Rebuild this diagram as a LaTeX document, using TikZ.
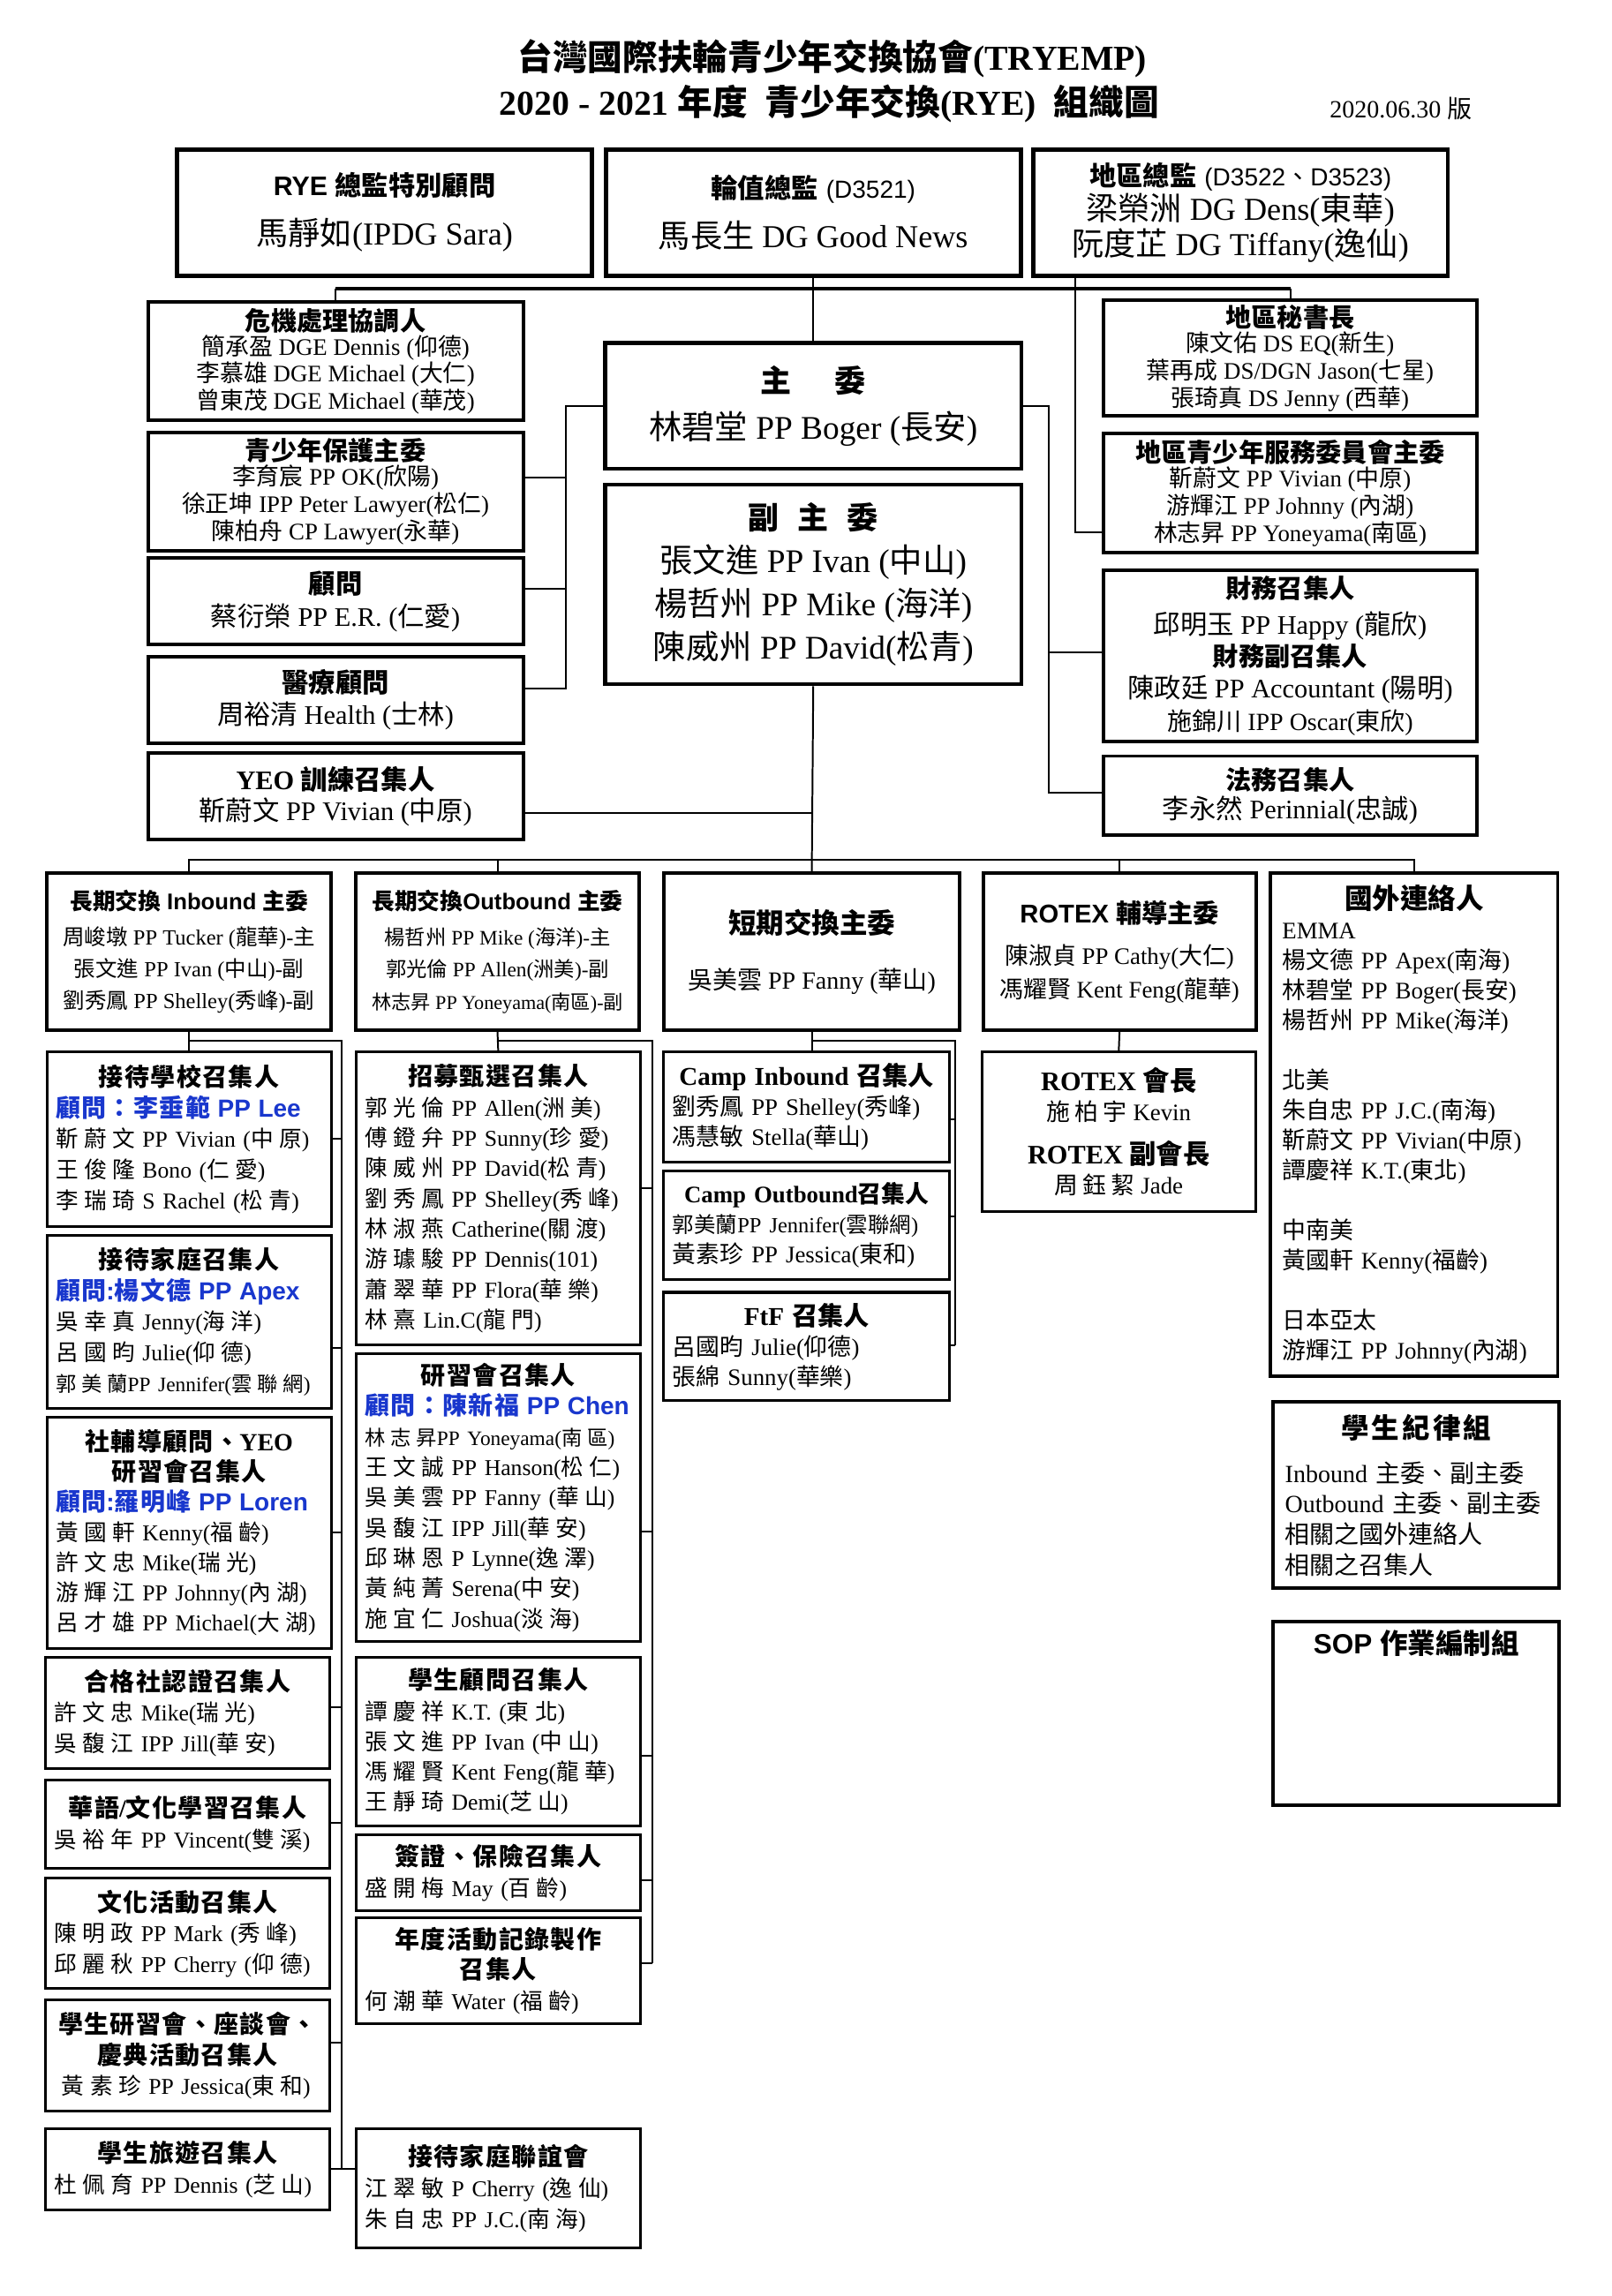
\documentclass[tikz,border=0pt]{standalone}
\usepackage{fontspec}
\setmainfont{Liberation Serif}
\setsansfont{Liberation Sans}
\newfontfamily\cjk{Noto Sans CJK TC}
\newcommand\latinfam{\rmfamily}
\newcommand\cjkgap{}
\chardef\cjkcls=7
\newcount\cjkchar
\cjkchar="2E80
\loop
  \XeTeXcharclass\cjkchar=\cjkcls
  \advance\cjkchar by 1
\ifnum\cjkchar<"A000 \repeat
\cjkchar="FF00
\loop
  \XeTeXcharclass\cjkchar=\cjkcls
  \advance\cjkchar by 1
\ifnum\cjkchar<"FFF0 \repeat
\XeTeXinterchartoks 0 \cjkcls = {\cjk}
\XeTeXinterchartoks 4095 \cjkcls = {\cjk}
\XeTeXinterchartoks \cjkcls 0 = {\latinfam}
\XeTeXinterchartoks \cjkcls 4095 = {\latinfam}
\XeTeXinterchartoks \cjkcls \cjkcls = {\cjkgap}
\XeTeXinterchartokenstate=1
\usepackage{tikz}
\definecolor{advblue}{RGB}{25,55,205}
\newcommand\fsz[2]{\fontsize{#1}{#2}\selectfont}
\newcommand\sfl{\sffamily\def\latinfam{\sffamily}}
\newcommand\gap[1]{\def\cjkgap{\kern#1em}}
\newcommand\hd[1]{\makebox[\hsize]{\bfseries\fsz{12}{14}\gap{.05}#1}}
\newcommand\hdb[1]{\makebox[\hsize]{\bfseries\fsz{12.5}{14}\gap{0}#1}}
\newcommand\adv[1]{{\color{advblue}\sfl\bfseries\fsz{12}{14}\gap{.05}#1}}
\tikzset{
  topbox/.style={draw, line width=2.1pt, minimum width=7.075cm, minimum height=2.15cm, align=center, inner sep=1pt},
  sidebox/.style={draw, line width=1.7pt, minimum width=6.4cm, align=center, inner sep=1pt},
  chairbox/.style={draw, line width=1.8pt, minimum width=7.1cm, align=center, inner sep=1pt},
  rowbox/.style={draw, line width=1.7pt, minimum height=2.675cm, align=center, inner sep=1pt},
  lowbox/.style={draw, line width=1.3pt, text width=4.55cm, inner xsep=0.15cm, inner ysep=0pt, align=left, font=\fsz{11}{14.8}\gap{.25}},
  campbox/.style={lowbox, text width=4.575cm, font=\fsz{11.5}{14.6}},
  link/.style={line width=0.85pt},
  bus/.style={line width=1.9pt}
}
\begin{document}
\begin{tikzpicture}[x=0.025cm, y=-0.025cm]
\useasboundingbox (0,0) rectangle (1100,1567);

\node[font=\bfseries\fsz{17}{20}] (title) at (568,40) {台灣國際扶輪青少年交換協會(TRYEMP)};
\node[font=\bfseries\fsz{17}{20}] (subtitle) at (566,71) {2020 - 2021 年度\enspace 青少年交換(RYE)\enspace 組織圖};
\node[font=\fsz{12}{14}] (version) at (956,74) {2020.06.30 版};

\node[topbox, font=\fsz{15.5}{24}] (rye) at (262.5,145) {{\sfl\bfseries\fsz{13}{15}RYE 總監特別顧問}\\馬靜如(IPDG Sara)};
\node[topbox, font=\fsz{15.5}{24}] (duty) at (555,145) {{\bfseries\fsz{13}{15}輪值總監} {\sfl\fsz{12}{14}(D3521)}\\馬長生 DG Good News};
\node[topbox, font=\fsz{15.5}{17}] (dist) at (846.5,145) {{\bfseries\fsz{13}{15}地區總監} {\sfl\fsz{12}{14}(D3522、D3523)}\\梁榮洲 DG Dens(東華)\\阮度芷 DG Tiffany(逸仙)};

\node[sidebox, minimum height=2.025cm, font=\fsz{11.5}{12.1}] (crisis) at (229,246.5) {{\bfseries\fsz{12.5}{14}危機處理協調人}\\簡承盈 DGE Dennis (仰德)\\李慕雄 DGE Michael (大仁)\\曾東茂 DGE Michael (華茂)};
\node[sidebox, minimum height=2.025cm, font=\fsz{11.5}{12.1}] (protect) at (229,335.5) {{\bfseries\fsz{12.5}{14}青少年保護主委}\\李育宸 PP OK(欣陽)\\徐正坤 IPP Peter Lawyer(松仁)\\陳柏舟 CP Lawyer(永華)};
\node[sidebox, minimum height=1.475cm, font=\fsz{13}{15.6}] (advisor) at (229,410.5) {{\bfseries\fsz{13}{15}顧問}\\蔡衍榮 PP E.R. (仁愛)};
\node[sidebox, minimum height=1.475cm, font=\fsz{13}{15.6}] (medical) at (229,477.5) {{\bfseries\fsz{13}{15}醫療顧問}\\周裕清 Health (士林)};
\node[sidebox, minimum height=1.475cm, font=\fsz{13}{15}] (yeo) at (229,543.5) {{\bfseries\fsz{13}{15}YEO 訓練召集人}\\靳蔚文 PP Vivian (中原)};

\node[sidebox, minimum width=6.375cm, minimum height=1.975cm, font=\fsz{11.5}{12.1}] (sec) at (880.5,244.5) {{\bfseries\fsz{12.5}{14}地區秘書長}\\陳文佑 DS EQ(新生)\\葉再成 DS/DGN Jason(七星)\\張琦真 DS Jenny (西華)};
\node[sidebox, minimum width=6.375cm, minimum height=2.025cm, font=\fsz{11.5}{12.1}] (ysv) at (880.5,336.5) {{\bfseries\fsz{12.5}{14}地區青少年服務委員會主委}\\靳蔚文 PP Vivian (中原)\\游輝江 PP Johnny (內湖)\\林志昇 PP Yoneyama(南區)};
\node[sidebox, minimum width=6.375cm, minimum height=2.925cm, font=\fsz{13}{15.5}] (fin) at (880.5,447.5) {{\bfseries\fsz{12.5}{14}財務召集人}\\[2pt]邱明玉 PP Happy (龍欣)\\{\bfseries\fsz{12.5}{14}財務副召集人}\\陳政廷 PP Accountant (陽明)\\{\fsz{12}{14}施錦川 IPP Oscar(東欣)}};
\node[sidebox, minimum width=6.375cm, minimum height=1.35cm, font=\fsz{13}{14.2}] (legal) at (880.5,543) {{\bfseries\fsz{12.5}{14}法務召集人}\\李永然 Perinnial(忠誠)};

\node[chairbox, minimum height=2.15cm, font=\fsz{16}{22.8}] (chair) at (555,277) {{\bfseries\fsz{15}{18}主\hspace{1.4em}委}\\林碧堂 PP Boger (長安)};
\node[chairbox, minimum height=3.4cm, font=\fsz{16}{21}] (vice) at (555,399) {{\bfseries\fsz{15}{18}副\hspace{.6em}主\hspace{.6em}委}\\張文進 PP Ivan (中山)\\楊哲州 PP Mike (海洋)\\陳威州 PP David(松青)};

\node[rowbox, minimum width=4.85cm, font=\fsz{10.5}{15.6}] (inb) at (129,649.5) {{\sfl\bfseries\fsz{11}{13}長期交換 Inbound 主委}\\[1.4pt]周峻墩 PP Tucker (龍華)-主\\張文進 PP Ivan (中山)-副\\劉秀鳳 PP Shelley(秀峰)-副};
\node[rowbox, minimum width=4.825cm, font=\fsz{10}{15.6}] (outb) at (339.5,649.5) {{\sfl\bfseries\fsz{11}{13}長期交換Outbound 主委}\\[1.4pt]楊哲州 PP Mike (海洋)-主\\郭光倫 PP Allen(洲美)-副\\{\fsz{9.5}{11}林志昇 PP Yoneyama(南區)-副}};
\node[rowbox, minimum width=5.05cm, font=\fsz{12}{27}] (short) at (554,649.5) {{\bfseries\fsz{13.5}{15}短期交換主委}\\吳美雲 PP Fanny (華山)};
\node[rowbox, minimum width=4.65cm, font=\fsz{11.5}{16.3}] (rotex) at (764,649.5) {{\sfl\bfseries\fsz{12.5}{14}ROTEX 輔導主委}\\[4pt]陳淑貞 PP Cathy(大仁)\\馮耀賢 Kent Feng(龍華)};
\node[rowbox, minimum width=4.9cm, minimum height=8.575cm, text width=4.5cm, align=left, inner xsep=0.2cm, font=\fsz{11.5}{14.56}] (intl) at (965,767.5) {\makebox[\hsize]{\bfseries\fsz{13.5}{15}國外連絡人}\\EMMA\\楊文德 PP Apex(南海)\\林碧堂 PP Boger(長安)\\楊哲州 PP Mike(海洋)\\[14.56pt]北美\\朱自忠 PP J.C.(南海)\\靳蔚文 PP Vivian(中原)\\譚慶祥 K.T.(東北)\\[14.56pt]中南美\\黃國軒 Kenny(福齡)\\[14.56pt]日本亞太\\游輝江 PP Johnny(內湖)};

\node[lowbox, minimum height=2.975cm] (school) at (129,777.5) {\hd{接待學校召集人}\\\adv{顧問：李垂範 PP Lee}\\靳蔚文 PP Vivian (中原)\\王俊隆 Bono (仁愛)\\李瑞琦 S Rachel (松青)};
\node[lowbox, minimum height=2.95cm] (home) at (129,902) {\hd{接待家庭召集人}\\\adv{顧問:楊文德 PP Apex}\\吳幸真 Jenny(海洋)\\呂國昀 Julie(仰德)\\{\fsz{10}{12}郭美蘭PP Jennifer(雲聯網)}};
\node[lowbox, minimum height=3.95cm, font=\fsz{11}{14.6}\gap{.25}] (club) at (129,1046) {\hd{社輔導顧問、YEO}\\\hd{研習會召集人}\\\adv{顧問:羅明峰 PP Loren}\\黃國軒 Kenny(福齡)\\許文忠 Mike(瑞光)\\游輝江 PP Johnny(內湖)\\呂才雄 PP Michael(大湖)};
\node[lowbox, minimum height=1.9cm] (cert) at (128,1169) {\hd{合格社認證召集人}\\許文忠 Mike(瑞光)\\吳馥江 IPP Jill(華安)};
\node[lowbox, minimum height=1.5cm] (chinese) at (128,1245) {\hd{華語/文化學習召集人}\\吳裕年 PP Vincent(雙溪)};
\node[lowbox, minimum height=1.875cm] (culture) at (128,1319.5) {\hd{文化活動召集人}\\陳明政 PP Mark (秀峰)\\邱麗秋 PP Cherry (仰德)};
\node[lowbox, minimum height=1.9cm] (seminar) at (128,1403) {\hd{學生研習會、座談會、}\\\hd{慶典活動召集人}\\\ 黃素珍 PP Jessica(東和)};
\node[lowbox, minimum height=1.375cm] (tour) at (128,1480.5) {\hd{學生旅遊召集人}\\杜佩育 PP Dennis (芝山)};

\node[lowbox, minimum height=5cm, font=\fsz{11}{14.7}\gap{.25}] (recruit) at (340,818) {\hd{招募甄選召集人}\\郭光倫 PP Allen(洲美)\\傅鐙弁 PP Sunny(珍愛)\\陳威州 PP David(松青)\\劉秀鳳 PP Shelley(秀峰)\\林淑燕 Catherine(關渡)\\游璩駿 PP Dennis(101)\\蕭翠華 PP Flora(華樂)\\林熹 Lin.C(龍門)};
\node[lowbox, minimum height=4.9cm, font=\fsz{11}{14.7}\gap{.25}] (study) at (340,1022) {\hd{研習會召集人}\\\adv{顧問：陳新福 PP Chen}\\{\fsz{10}{12}林志昇PP Yoneyama(南區)}\\王文誠 PP Hanson(松仁)\\吳美雲 PP Fanny (華山)\\吳馥江 IPP Jill(華安)\\邱琳恩 P Lynne(逸澤)\\黃純菁 Serena(中安)\\施宜仁 Joshua(淡海)};
\node[lowbox, minimum height=2.875cm, font=\fsz{11}{14.6}\gap{.25}] (advise) at (340,1188.5) {\hd{學生顧問召集人}\\譚慶祥 K.T. (東北)\\張文進 PP Ivan (中山)\\馮耀賢 Kent Feng(龍華)\\王靜琦 Demi(芝山)};
\node[lowbox, minimum height=1.3cm] (visa) at (340,1278) {\hd{簽證、保險召集人}\\盛開梅 May (百齡)};
\node[lowbox, minimum height=1.8cm] (record) at (340,1345) {\hd{年度活動記錄製作}\\\hd{召集人}\\何潮華 Water (福齡)};
\node[lowbox, minimum height=2.025cm] (party) at (340,1493.5) {\hd{接待家庭聯誼會}\\江翠敏 P Cherry (逸仙)\\朱自忠 PP J.C.(南海)};

\node[campbox, minimum height=1.875cm] (campin) at (550.5,755.5) {\hdb{Camp Inbound 召集人}\\劉秀鳳 PP Shelley(秀峰)\\馮慧敏 Stella(華山)};
\node[campbox, minimum height=1.85cm] (campout) at (550.5,836) {\makebox[\hsize]{\bfseries\fsz{11.5}{14}Camp Outbound召集人}\\{\fsz{10.5}{12}郭美蘭PP Jennifer(雲聯網)}\\黃素珍 PP Jessica(東和)};
\node[campbox, minimum height=1.85cm] (ftf) at (550.5,919) {\hdb{FtF 召集人}\\呂國昀 Julie(仰德)\\張綿 Sunny(華樂)};

\node[draw, line width=1.3pt, minimum width=4.675cm, minimum height=2.725cm, align=center, inner sep=1pt, font=\fsz{11.5}{14.5}\gap{.2}] (rotexp) at (763.5,772.5) {{\bfseries\fsz{13}{15}\gap{0}ROTEX 會長}\\施柏宇 Kevin\\[6.5pt]{\bfseries\fsz{13}{15}\gap{0}ROTEX 副會長}\\周鈺絜 Jade};

\node[rowbox, minimum width=4.875cm, minimum height=3.175cm, text width=4.475cm, align=left, inner xsep=0.2cm, font=\fsz{12}{14.9}] (discip) at (966.5,1020.5) {\makebox[\hsize]{\bfseries\fsz{13.5}{15}\gap{.1}學生紀律組}\\[6.4pt]Inbound 主委、副主委\\Outbound 主委、副主委\\相關之國外連絡人\\相關之召集人};
\node[rowbox, minimum width=4.875cm, minimum height=3.125cm, text height=0.55cm, text depth=2.575cm, inner ysep=0pt, font=\sfl\bfseries\fsz{13.5}{15}] (sop) at (966.5,1169.5) {SOP 作業編制組};

\coordinate (topbus) at (555,197);
\coordinate (jDist) at (734,363);
\coordinate (jProt) at (386,326);
\coordinate (jAdv) at (386,402);
\coordinate (jMed) at (386,470);
\coordinate (jFin) at (716,445);
\coordinate (jLegal) at (716,541);
\coordinate (jYeo) at (555,555);
\coordinate (rowbus) at (555,587);
\coordinate (jIn) at (233,710);
\coordinate (jSchool) at (233,777);
\coordinate (jHome) at (233,920);
\coordinate (jClub) at (233,1046);
\coordinate (jCert) at (233,1165);
\coordinate (jChinese) at (233,1244);
\coordinate (jSeminar) at (233,1394);
\coordinate (jTour) at (233,1480);
\coordinate (jOut) at (445,710);
\coordinate (jRecruit) at (445,811);
\coordinate (jStudy) at (445,1045);
\coordinate (jAdvise) at (445,1198);
\coordinate (jVisa) at (445,1283);
\coordinate (jRecord) at (445,1340);
\coordinate (jShort) at (652,710);
\coordinate (jCampin) at (652,764);
\coordinate (jCampout) at (652,830);
\coordinate (jFtf) at (652,918);

\draw[bus] (crisis.north |- topbus) -- (sec.north |- topbus);
\draw[link] (crisis.north) -- (crisis.north |- topbus);
\draw[link] (sec.north) -- (sec.north |- topbus);
\draw[link] (duty.south) -- (chair.north);
\draw[link] (dist.south -| jDist) |- (ysv.west |- jDist);

\draw[link] (chair.west) -| (jMed) -- (medical.east |- jMed);
\draw[link] (protect.east |- jProt) -- (jProt);
\draw[link] (advisor.east |- jAdv) -- (jAdv);
\draw[link] (chair.east) -| (jLegal) -- (legal.west |- jLegal);
\draw[link] (jFin) -- (fin.west |- jFin);

\draw[link] (vice.south) -- (short.north);
\draw[link] (yeo.east |- jYeo) -- (jYeo);
\draw[link] (inb.north) |- (rowbus) -| (intl.north);
\draw[link] (outb.north) -- (outb.north |- rowbus);
\draw[link] (rotex.north) -- (rotex.north |- rowbus);
\draw[link] (rotex.south) -- (rotexp.north);

\draw[link] (inb.south) -- (school.north);
\draw[link] (inb.south |- jIn) -- (jIn) -- (jTour);
\draw[link] (school.east |- jSchool) -- (jSchool);
\draw[link] (home.east |- jHome) -- (jHome);
\draw[link] (club.east |- jClub) -- (jClub);
\draw[link] (cert.east |- jCert) -- (jCert);
\draw[link] (chinese.east |- jChinese) -- (jChinese);
\draw[link] (seminar.east |- jSeminar) -- (jSeminar);
\draw[link] (tour.east |- jTour) -- (party.west |- jTour);

\draw[link] (outb.south) -- (recruit.north);
\draw[link] (outb.south |- jOut) -- (jOut) -- (jRecord);
\draw[link] (recruit.east |- jRecruit) -- (jRecruit);
\draw[link] (study.east |- jStudy) -- (jStudy);
\draw[link] (advise.east |- jAdvise) -- (jAdvise);
\draw[link] (visa.east |- jVisa) -- (jVisa);
\draw[link] (record.east |- jRecord) -- (jRecord);

\draw[link] (short.south) -- (short.south |- campin.north);
\draw[link] (short.south |- jShort) -- (jShort) -- (jFtf);
\draw[link] (campin.east |- jCampin) -- (jCampin);
\draw[link] (campout.east |- jCampout) -- (jCampout);
\draw[link] (ftf.east |- jFtf) -- (jFtf);
\end{tikzpicture}
\end{document}
